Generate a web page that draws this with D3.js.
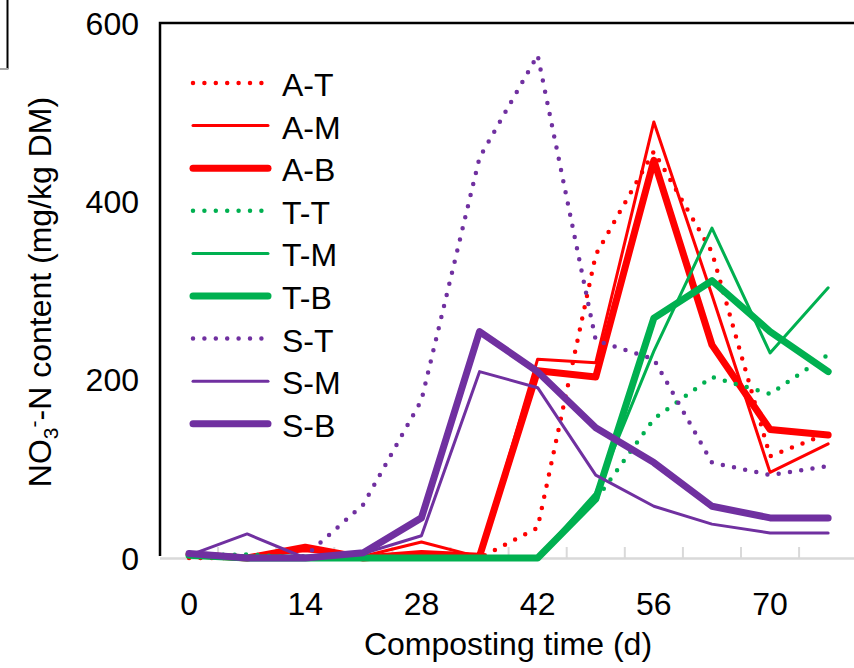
<!DOCTYPE html>
<html>
<head>
<meta charset="utf-8">
<script src="https://cdn.jsdelivr.net/npm/d3@7"></script>
<style>
  body { margin: 0; background: #fff; }
  svg { display: block; }
  text { font-family: "Liberation Sans", Arial, sans-serif; fill: #000; }
</style>
</head>
<body>
<svg id="chart" width="854" height="668"></svg>
<script>
// Sampling days (composting time, d)
const days = [0, 7, 14, 21, 28, 35, 42, 49, 56, 63, 70, 77];
const xTickLabels = [0, 14, 28, 42, 56, 70];
const yTickValues = [0, 200, 400, 600];

// NO3--N content (mg/kg DM) per pile and layer
const aT = [0, 0, 0, 0, 0, 0, 34, 340, 456, 343, 114, 140];
const aM = [3, 2, 8, 2, 18, 1, 223, 219, 489, 295, 96, 128];
const aB = [4, 0, 12, 0, 5, 2, 210, 203, 446, 239, 144, 138];
const tT = [3, 4, 0, 0, 0, 0, 0, 65, 156, 203, 184, 228];
const tM = [3, 0, 0, 0, 0, 0, 0, 73, 232, 370, 230, 303];
const tB = [3, 0, 0, 0, 0, 0, 0, 66, 269, 311, 254, 209];
const sT = [4, 0, 2, 60, 177, 449, 564, 244, 223, 107, 93, 103];
const sM = [3, 27, 0, 5, 25, 209, 191, 93, 58, 38, 28, 28];
const sB = [5, 0, 0, 6, 45, 254, 209, 146, 107, 58, 45, 45];

const seriesNames = ["A-T", "A-M", "A-B", "T-T", "T-M", "T-B", "S-T", "S-M", "S-B"];
const seriesValues = [aT, aM, aB, tT, tM, tB, sT, sM, sB];

const colors = { A: "#FF0000", T: "#00B050", S: "#7030A0" };
const layerStyle = {
  T: { width: 4.5, dash: "0 11.4" },
  M: { width: 3, dash: null },
  B: { width: 7, dash: null }
};

const svg = d3.select("#chart");

const plotLeft = 160, plotTop = 23, plotBottom = 558, catW = 58.1;
const x = d3.scaleBand().domain(days).range([plotLeft, plotLeft + catW * days.length]).padding(0);
const cx = d => x(d) + x.bandwidth() / 2;
const y = d3.scaleLinear().domain([0, 600]).range([plotBottom, plotTop]);

// Edge of the neighbouring panel
svg.append("line").attr("x1", 7.5).attr("x2", 7.5).attr("y1", 0).attr("y2", 69)
  .attr("stroke", "#000").attr("stroke-width", 2);
svg.append("line").attr("x1", 0).attr("x2", 8.5).attr("y1", 69).attr("y2", 69)
  .attr("stroke", "#a6a6a6").attr("stroke-width", 2);

// Category tick marks and axis line
const axisG = svg.append("g");
axisG.selectAll("line.tick").data(days.slice(1)).join("line")
  .attr("class", "tick")
  .attr("x1", d => x(d)).attr("x2", d => x(d))
  .attr("y1", plotBottom - 11).attr("y2", plotBottom)
  .attr("stroke", "#d9d9d9").attr("stroke-width", 2);
axisG.append("line")
  .attr("x1", plotLeft).attr("x2", 860).attr("y1", plotBottom + 0.5).attr("y2", plotBottom + 0.5)
  .attr("stroke", "#d9d9d9").attr("stroke-width", 2.5);

// Plot frame (top and left)
svg.append("path")
  .attr("d", `M${plotLeft},${plotBottom - 2}V${plotTop}H860`)
  .attr("fill", "none").attr("stroke", "#000").attr("stroke-width", 2.5);

// Axis labels
svg.append("g").selectAll("text").data(xTickLabels).join("text")
  .attr("x", d => cx(d)).attr("y", 615)
  .attr("text-anchor", "middle").attr("font-size", 32)
  .text(d => d);

svg.append("g").selectAll("text").data(yTickValues).join("text")
  .attr("x", 139).attr("y", d => y(d) + 11.5)
  .attr("text-anchor", "end").attr("font-size", 32)
  .text(d => d);

svg.append("text").attr("x", 508).attr("y", 655)
  .attr("text-anchor", "middle").attr("font-size", 32)
  .text("Composting time (d)");

const yTitle = svg.append("text")
  .attr("transform", "translate(51,292) rotate(-90)")
  .attr("text-anchor", "middle").attr("font-size", 32);
yTitle.append("tspan").text("NO");
yTitle.append("tspan").attr("font-size", 21).attr("dy", 7).text("3");
yTitle.append("tspan").attr("font-size", 21).attr("dy", -17).text("-");
yTitle.append("tspan").attr("dy", 10).text("-N content (mg/kg DM)");

// Series lines
const line = d3.line().x((v, i) => cx(days[i])).y(v => y(v));
const linesG = svg.append("g");
seriesNames.forEach((name, si) => {
  const st = layerStyle[name[2]];
  linesG.append("path")
    .datum(seriesValues[si])
    .attr("d", line)
    .attr("fill", "none")
    .attr("stroke", colors[name[0]])
    .attr("stroke-width", st.width)
    .attr("stroke-dasharray", st.dash)
    .attr("stroke-linecap", "round")
    .attr("stroke-linejoin", "round");
});

// Legend
const legend = svg.append("g");
seriesNames.forEach((name, i) => {
  const st = layerStyle[name[2]];
  const ly = 83 + 42.6 * i;
  legend.append("line")
    .attr("x1", 193).attr("x2", st.dash ? 263 : 268)
    .attr("y1", ly).attr("y2", ly)
    .attr("stroke", colors[name[0]])
    .attr("stroke-width", st.width)
    .attr("stroke-dasharray", st.dash)
    .attr("stroke-linecap", "round");
  legend.append("text").attr("x", 282).attr("y", ly + 13)
    .attr("font-size", 32).text(name);
});
</script>
</body>
</html>
